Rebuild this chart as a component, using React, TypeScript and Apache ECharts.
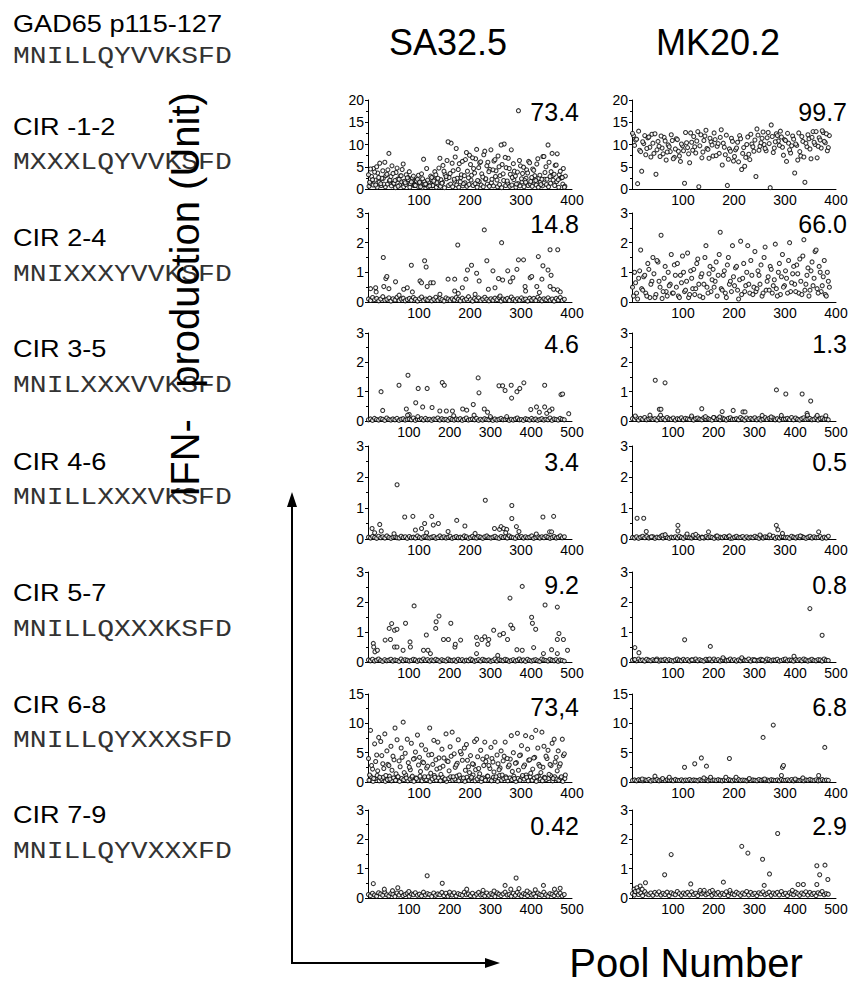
import React, { useEffect, useRef } from "react";
import * as echarts from "echarts";

// ---------- text content ----------
const PEPTIDE_NAMES = ["GAD65 p115-127", "CIR -1-2", "CIR 2-4", "CIR 3-5", "CIR 4-6", "CIR 5-7", "CIR 6-8", "CIR 7-9"];
const PEPTIDE_SEQS = ["MNILLQYVVKSFD", "MXXXLQYVVKSFD", "MNIXXXYVVKSFD", "MNILXXXVVKSFD", "MNILLXXXVKSFD", "MNILLQXXXKSFD", "MNILLQYXXXSFD", "MNILLQYVXXXFD"];
const CLONES = ["SA32.5", "MK20.2"];
const SA_VALUES = ["73.4", "14.8", "4.6", "3.4", "9.2", "73,4", "0.42"];
const MK_VALUES = ["99.7", "66.0", "1.3", "0.5", "0.8", "6.8", "2.9"];
const X_MAX = [400, 400, 500, 400, 500, 400, 500];
const Y_MAX = [20, 3, 3, 3, 3, 15, 3];
const Y_STEP = [5, 1, 1, 1, 1, 5, 1];

// ---------- data (IFN units per pool) ----------
// dense panels: one value per sampled pool (pool = first + i*4)
const SA1_A = [3.2,4.5,2.1,3.8,5.0,2.6,1.2,4.1,6.0,3.3, 8.0,2.8,3.5,1.9,4.7,2.2,3.0,5.6,1.4,2.5, 3.9,1.6,2.9,0.8,2.2,1.5,3.4,6.7,1.1,2.0, 0.7,2.6,1.8,3.2,2.4,6.9,1.3,4.0,2.8,10.6, 3.5,5.8,2.2,9.1,4.4,1.6,6.2,3.0,8.2,2.5, 5.5,7.0,3.6,8.9,4.8,6.1,2.7,8.5,5.2,3.9, 8.8,4.3,6.6,2.0,5.0,9.9,3.4,7.1,1.8,4.6, 8.8,5.7,2.9,3.8,6.4,2.3,4.9,1.5,3.6,5.9, 2.6,4.2,1.9,6.8,3.1,2.2,7.3,5.0,9.9,2.8, 8.0,3.3,5.4,2.1,4.0,2.6,0.4];
const SA1_B = [1.5,2.8,4.6,0.9,3.6,5.8,2.4,1.1,3.0,4.3, 2.0,5.2,1.3,3.7,0.6,2.9,4.4,1.7,3.2,2.1, 1.2,2.5,0.9,1.8,3.1,0.5,2.3,1.0,4.6,1.6, 2.9,0.8,3.9,1.4,4.7,2.1,5.3,3.3,6.4,2.6, 10.3,4.1,7.2,2.4,5.7,3.2,1.2,6.6,4.0,7.6, 3.1,4.6,6.8,1.9,5.9,3.4,7.7,2.3,6.0,4.4, 2.2,6.3,4.1,7.4,3.0,5.5,10.1,4.8,6.9,3.3, 2.6,4.0,1.1,17.6,5.2,3.5,2.0,4.3,6.2,1.7, 4.5,3.0,5.6,2.4,1.0,7.3,3.7,2.2,6.0,3.9, 2.0,5.3,7.9,3.2,2.5,4.6,2.9];
const SA1_C = [0.6,1.2,0.9,2.0,0.4,1.5,0.8,2.4,0.5,1.1, 1.8,0.7,1.3,0.3,2.2,0.9,1.6,0.5,1.0,2.6, 0.4,1.4,0.8,1.9,0.6,1.2,0.3,1.7,0.9,0.5, 1.3,0.7,2.1,0.4,1.0,0.6,1.5,0.3,2.3,0.8, 1.1,0.5,1.8,0.9,0.4,2.6,0.7,1.4,0.6,1.0, 2.0,0.8,1.2,0.4,1.7,0.9,0.5,2.2,1.1,0.6, 1.4,0.7,2.8,0.5,1.0,0.3,1.9,0.8,1.3,0.6, 0.9,2.1,0.4,1.2,0.7,1.6,0.5,2.4,0.8,1.1, 0.6,1.8,0.9,0.4,1.5,0.7,2.2,1.0,0.5,1.3, 3.0,0.8,1.7,0.4,2.5,1.1,0.6];

const MK1_A = [12.5,9.8,11.2,13.0,8.4,10.6,12.0,9.1,11.7,7.2, 10.3,12.4,8.8,9.6,11.9,7.9,10.8,8.3,9.5,12.2, 6.8,9.0,11.1,7.4,10.1,8.6,12.7,9.3,5.9,10.5, 11.8,8.1,12.9,9.7,7.0,10.9,13.2,8.9,11.4,9.9, 12.6,7.5,10.2,11.6,5.4,9.4,12.1,6.7,8.5,10.7, 7.3,9.2,6.1,11.3,8.0,5.1,10.0,7.8,12.3,9.5, 11.0,13.5,8.7,10.4,12.8,9.1,11.5,10.2,14.4,8.2, 10.6,12.0,9.8,11.7,7.6,10.9,12.5,8.8,9.7,11.2, 10.1,6.5,8.4,11.8,7.2,10.3,12.2,9.0,11.6,10.5, 12.9,9.6,11.0,13.1,10.7,12.4,9.3];
const MK1_B = [12.0,11.0,1.2,8.7,4.0,10.2,7.7,11.5,9.4,12.3, 8.0,3.3,10.7,7.3,9.2,11.6,6.5,9.9,8.4,10.9, 7.1,11.3,8.5,6.2,9.7,1.3,10.4,7.9,12.6,8.7, 9.5,10.8,0.5,12.2,8.3,11.9,9.1,6.9,10.6,7.4, 11.1,9.6,8.0,13.3,10.3,7.7,0.8,9.0,11.4,6.3, 8.8,10.5,12.0,4.4,9.3,7.1,11.7,6.6,10.1,8.5, 2.8,12.1,9.6,11.4,10.0,8.6,12.7,0.3,11.8,9.2, 12.4,10.8,13.0,9.4,11.1,6.2,10.3,8.1,11.9,3.6, 9.8,12.6,7.4,10.7,1.5,9.5,11.3,6.8,12.9,10.0, 7.0,11.5,9.2,12.7,10.4,8.6,12.0];

const MK2_A = [0.5,1.0,0.3,0.8,1.75,0.4,0.9,0.2,1.1,0.6, 1.5,0.15,1.4,0.7,2.25,0.35,1.2,0.2,0.55,1.6, 0.3,0.9,1.3,0.15,0.65,1.0,0.4,1.65,0.25,0.8, 1.1,0.45,1.45,0.2,0.95,0.6,1.9,0.3,1.2,0.75, 0.5,1.35,0.9,2.35,0.4,1.05,0.15,1.5,0.7,1.9, 0.55,1.2,0.1,2.05,0.8,0.35,1.0,0.6,1.4,0.25, 1.7,0.45,0.9,1.25,0.3,1.85,0.7,0.4,1.1,0.55, 1.95,0.2,1.3,0.85,0.5,1.05,0.3,2.0,0.65,1.2, 0.35,0.95,1.45,0.25,2.1,0.6,1.15,0.4,1.35,0.8, 1.75,0.3,1.0,0.55,1.4,0.2,0.7];
const MK2_B = [0.2,0.65,0.1,1.05,0.45,0.85,0.3,1.3,0.15,0.7, 0.95,0.25,1.35,0.5,0.12,0.8,0.35,1.0,0.6,0.3, 1.25,0.5,0.2,0.9,1.55,0.35,0.7,0.15,1.05,0.45, 0.25,1.3,0.6,0.85,0.15,1.5,0.5,0.95,0.35,1.1, 0.7,0.2,1.6,0.45,0.9,0.3,1.25,0.6,0.35,0.85, 1.15,0.4,0.75,0.25,1.3,0.55,1.9,0.3,0.9,0.5, 0.35,1.05,0.6,0.2,1.5,0.4,0.85,1.2,0.3,0.75, 0.45,1.0,0.25,1.6,0.55,0.8,1.4,0.35,0.95,0.6, 1.25,0.3,0.7,1.55,0.4,0.9,0.2,1.05,0.55,1.7, 0.45,1.2,0.35,0.85,0.25,1.0,0.5];

const SA6_A = [4.0,8.8,2.2,6.5,4.6,7.6,6.9,3.1,8.2,5.3, 2.8,6.1,4.4,9.2,7.2,3.6,5.8,10.2,4.9,7.3, 2.5,6.6,3.9,5.1,8.0,4.2,6.3,3.3,5.5,2.7, 9.2,4.7,7.1,3.8,6.8,2.4,5.6,4.1,8.2,3.5, 6.0,8.5,4.8,2.9,7.2,5.2,3.7,5.8,6.4,2.6, 4.5,3.1,6.9,7.3,2.3,5.4,3.9,6.8,4.3,2.8, 5.9,3.4,6.8,4.6,2.1,5.3,3.6,6.8,4.0,2.9, 7.9,5.0,3.2,8.3,4.5,6.2,2.6,7.9,5.6,3.8, 7.6,4.1,8.8,5.8,2.7,8.5,6.1,4.4,5.4,3.0, 6.6,7.3,4.2,5.3,3.1,7.3,4.8];
const SA6_B = [1.2,2.8,0.6,3.5,1.9,0.8,4.5,2.3,1.1,3.0, 0.5,2.0,3.8,1.4,0.9,2.6,4.2,1.6,0.7,3.3, 2.1,1.0,4.0,0.6,2.9,1.8,3.4,0.9,2.4,4.6, 1.5,3.0,0.8,2.2,4.1,1.3,2.7,0.5,3.6,1.9, 4.4,0.9,2.5,3.2,1.2,4.8,0.7,2.0,3.7,1.6, 0.8,3.0,2.1,4.3,1.4,0.6,2.8,3.5,1.0,2.3, 4.0,1.7,0.9,3.1,2.4,1.2,4.4,0.7,2.6,3.9, 1.8,0.6,3.3,2.0,4.6,1.1,2.9,0.8,3.7,1.5, 2.2,4.2,0.9,3.0,1.6,2.5,0.7,4.0,1.3,2.8, 0.6,3.4,1.9,2.7,0.9,4.5,1.2];
const SA6_C = [0.3,0.9,0.1,0.6,1.1,0.2,0.5,0.8,0.1,0.4, 1.0,0.2,0.7,0.3,0.9,0.1,0.6,0.4,1.2,0.2, 0.5,0.8,0.1,0.7,0.3,1.0,0.2,0.6,0.4,0.9, 0.1,0.5,1.1,0.3,0.7,0.2,0.8,0.4,0.1,0.6, 0.9,0.3,0.5,1.0,0.2,0.7,0.4,0.1,0.8,0.3, 0.6,1.2,0.2,0.5,0.9,0.1,0.7,0.3,1.0,0.4, 0.2,0.8,0.5,0.1,1.1,0.3,0.6,0.9,0.2,0.7, 0.4,1.0,0.1,0.6,0.3,0.8,0.5,1.2,0.2,0.9, 0.3,0.7,0.1,1.0,0.5,0.2,0.8,0.4,0.6,1.1, 0.2,0.9,0.5,0.3,0.7,0.1,0.6];

// sparse panels: background pools (values in hundredths of a unit)
const SA2_BASE = [10,5,15,8,12,4,10,18,6,9, 14,3,11,7,16,5,10,13,4,8, 12,6,15,9,3,11,17,5,10,7, 13,4,9,16,6,12,8,3,14,10, 5,11,7,15,9,4,13,6,10,18, 8,3,12,7,14,5,10,16,9,4, 11,6,13,8,15,3,10,7,12,5, 17,9,4,11,6,14,8,10,3,13, 7,12,5,16,9,4,11,8,14,6, 10,3,12,7,15,5,9];
const SA3_BASE = [4,7,2,9,5,3,8,6,2,10, 5,3,7,4,9,2,6,8,3,5, 7,4,10,2,6,5,8,3,9,4, 6,2,7,5,10,3,8,4,6,2, 9,5,3,7,4,8,2,6,10,3, 5,7,4,9,2,6,3,8,5,4, 10,2,7,3,6,9,4,5,8,2, 6,3,7,10,4,5,2,8,6,3, 9,4,7,2,5,8,3,6,4,10, 2,7,5,3,9,6,4];
const MK3_BASE = [8,5,11,3,9,6,12,4,7,10, 5,8,3,11,6,9,4,12,7,5, 10,3,8,6,11,4,9,7,5,12, 3,8,10,6,4,11,7,9,5,3, 12,6,8,4,10,7,3,9,11,5, 6,8,4,12,7,3,10,5,9,6, 11,4,8,3,7,12,5,9,6,10, 4,8,3,11,6,7,9,5,12,4, 10,6,3,8,11,5,7,9,4,6, 12,3,8,10,5,7,4];
const SA4_BASE = [6,3,8,5,2,9,4,7,3,10, 5,2,6,8,4,3,9,5,7,2, 8,4,6,3,10,5,2,7,9,4, 3,6,8,2,5,10,4,7,3,6, 9,2,5,8,4,6,3,10,7,2, 5,9,4,3,8,6,2,7,10,5, 3,6,9,4,2,8,5,7,3,10, 6,4,2,9,5,8,3,7,4,6, 10,2,5,8,3,7,4,9,6,2, 5,8,3,6,10,4,7];
const MK4_BASE = [5,3,7,2,6,9,4,8,3,5, 7,2,6,4,9,3,8,5,2,6, 4,7,3,9,5,2,8,6,4,3, 7,5,9,2,6,3,8,4,7,5, 2,9,3,6,4,8,5,7,2,3, 6,9,4,5,8,2,7,3,6,4, 9,5,2,8,3,7,6,4,5,9, 2,6,3,8,7,4,5,2,9,6, 3,7,4,8,5,2,6,9,3,7, 4,5,8,2,6,3,9];
const SA5_BASE = [7,4,9,3,6,10,5,2,8,4, 6,9,3,7,5,2,10,4,8,6, 3,5,9,7,2,6,4,10,5,8, 3,7,4,9,6,2,8,5,3,10, 6,4,7,2,9,5,8,3,6,4, 10,7,2,5,8,3,9,6,4,7, 2,5,10,3,8,6,4,9,7,2, 5,8,3,6,10,4,7,2,9,5, 3,6,8,4,2,10,7,5,3,9, 6,4,8,2,7,5,3];
const MK5_BASE = [6,8,4,10,5,7,3,9,6,4, 8,5,10,3,7,6,9,4,8,5, 3,7,10,6,4,9,5,8,3,7, 6,10,4,8,5,3,9,7,6,4, 10,5,8,3,7,9,4,6,10,5, 8,3,7,4,9,6,5,10,3,8, 7,4,6,9,5,3,10,8,4,7, 6,9,3,5,8,10,4,7,6,3, 9,5,8,4,10,7,3,6,9,5, 4,8,7,3,10,6,5];
const MK6_BASE = [25,35,20,40,30,22,38,28,45,18, 32,26,42,20,35,30,24,40,28,36, 22,44,30,26,38,20,34,28,42,24, 36,30,20,40,26,32,45,22,38,28, 34,24,40,30,20,36,26,42,32,22, 38,28,44,24,34,30,20,40,26,36, 30,22,42,28,38,24,34,20,40,32, 26,36,22,44,30,28,38,24,42,20, 34,30,26,40,22,36,28,44,32,24, 38,20,30,42,26,34,28];
const SA7_BASE = [12,8,16,10,6,18,14,9,20,11, 7,15,13,5,17,10,19,8,12,16, 6,14,11,18,9,13,7,20,10,15, 12,5,17,9,14,11,19,8,16,6, 13,10,18,7,15,12,9,20,11,14, 8,16,6,13,19,10,12,7,17,9, 15,11,5,18,13,8,14,20,10,12, 6,16,9,19,11,7,15,13,8,18, 10,14,5,17,12,9,20,11,6,15, 13,8,18,10,16,7,12];
const MK7_BASE = [15,10,20,12,18,8,22,14,11,17, 9,19,13,21,10,16,12,20,8,18, 14,11,22,15,9,17,13,19,10,21, 12,16,8,20,14,18,11,15,22,9, 17,13,19,10,16,12,21,8,18,14, 11,20,15,9,17,13,22,10,19,12, 16,8,18,14,21,11,15,20,9,17, 13,19,10,22,12,16,8,18,14,11, 20,15,9,17,13,21,10,19,12,16, 8,18,14,22,11,15,13];

// responding pools: [pool number, units]
const SA2_HITS = [[5,0.45],[15,0.48],[16,0.34],[30,1.5],[31,0.52],[35,0.79],[37,0.86],[41,0.45],[54,0.68],[61,0.23],[70,0.43],[77,0.48],[85,1.24],[87,0.34],[102,0.71],[105,0.65],[111,1.39],[114,1.18],[116,0.52],[123,0.65],[128,0.65],[141,0.26],[157,0.77],[170,0.77],[170,0.37],[176,1.92],[177,0.29],[185,0.48],[192,0.77],[195,1.08],[203,1.24],[210,0.26],[213,0.97],[218,0.71],[228,2.43],[233,1.39],[236,0.43],[245,1.05],[249,0.48],[256,0.79],[259,0.2],[262,2.0],[264,0.74],[274,1.05],[279,0.68],[284,0.82],[292,1.1],[295,1.42],[305,1.42],[308,0.52],[309,0.37],[318,0.82],[321,0.86],[331,0.52],[334,1.53],[336,0.32],[341,0.77],[343,1.22],[353,1.08],[357,1.76],[357,0.52],[359,0.9],[364,0.43],[372,1.76],[372,0.41],[377,0.34]];
const SA3_HITS = [[32,1.0],[76,1.22],[98,1.56],[123,1.11],[145,1.11],[182,1.31],[187,1.22],[270,1.47],[272,0.96],[321,1.2],[330,1.2],[336,1.04],[351,1.22],[352,0.78],[365,1.0],[372,1.11],[382,1.3],[433,1.22],[473,0.9],[477,0.92],[36,0.36],[94,0.41],[117,0.62],[134,0.48],[157,0.46],[258,0.56],[232,0.41],[242,0.37],[285,0.41],[293,0.3],[399,0.39],[413,0.48],[433,0.48],[451,0.41],[438,0.26],[176,0.34],[192,0.34],[207,0.34],[101,0.22],[492,0.25],[97,0.2],[122,0.15],[210,0.18],[260,0.2],[300,0.15],[340,0.15],[420,0.3],[445,0.35]];
const MK3_HITS = [[57,1.39],[81,1.3],[67,0.4],[71,0.4],[70,0.2],[44,0.2],[354,1.06],[377,0.92],[417,0.92],[438,0.68],[171,0.42],[221,0.32],[248,0.36],[272,0.31],[277,0.31],[319,0.19],[341,0.14],[366,0.19],[429,0.26],[454,0.19],[475,0.18],[146,0.17],[8,0.17],[430,0.2],[180,0.15],[200,0.12],[215,0.14]];
const SA4_HITS = [[57,1.75],[8,0.34],[23,0.47],[26,0.26],[72,0.71],[88,0.73],[93,0.29],[105,0.34],[111,0.5],[125,0.73],[128,0.45],[138,0.5],[157,0.24],[174,0.6],[190,0.42],[230,1.25],[248,0.34],[258,0.31],[261,0.4],[266,0.34],[272,0.31],[282,1.08],[282,0.66],[291,0.4],[296,0.24],[343,0.71],[364,0.73],[356,0.23],[360,0.23],[13,0.2],[51,0.17],[115,0.2],[210,0.18],[270,0.2],[330,0.16]];
const MK4_HITS = [[10,0.67],[23,0.67],[28,0.24],[90,0.44],[90,0.26],[108,0.16],[150,0.23],[167,0.1],[191,0.1],[251,0.13],[270,0.13],[283,0.44],[286,0.3],[295,0.18],[330,0.1],[366,0.23],[38,0.07],[138,0.05],[60,0.12],[65,0.14],[120,0.12],[125,0.15]];
const SA5_HITS = [[13,0.62],[14,0.5],[17,0.34],[23,0.39],[42,0.73],[52,1.12],[55,0.75],[58,1.28],[65,1.06],[65,0.5],[71,1.09],[71,0.5],[86,0.39],[92,1.29],[103,0.67],[104,0.5],[113,1.87],[136,0.39],[143,0.9],[147,0.39],[153,0.28],[166,1.12],[167,1.34],[174,1.53],[185,0.75],[197,0.75],[203,1.29],[213,0.5],[214,0.59],[227,0.73],[266,0.82],[266,0.28],[268,0.59],[279,0.75],[286,0.84],[294,0.59],[296,0.75],[308,1.06],[318,0.22],[323,0.9],[332,0.95],[342,0.75],[348,2.13],[350,1.23],[355,1.12],[365,0.41],[378,2.52],[378,0.39],[401,1.49],[403,1.29],[406,0.48],[411,1.09],[430,0.28],[434,1.9],[450,0.41],[464,1.83],[464,0.75],[464,0.28],[468,0.95],[479,0.75],[489,0.39]];
const MK5_HITS = [[7,0.48],[17,0.31],[129,0.74],[192,0.52],[223,0.14],[269,0.14],[397,0.19],[436,1.78],[466,0.89],[147,0.07],[7,0.08],[60,0.06],[190,0.1],[300,0.06],[320,0.07]];
const MK6_HITS = [[103,2.5],[123,3.1],[136,4.1],[146,2.7],[191,4.0],[257,7.6],[277,9.7],[295,2.5],[297,2.8],[293,1.1],[378,5.9],[366,1.1],[45,1.0],[73,0.8],[154,0.8],[184,0.8],[204,0.8],[335,0.7],[141,0.7],[20,0.5],[60,0.6],[230,0.6],[260,0.5],[320,0.5]];
const SA7_HITS = [[13,0.49],[40,0.3],[73,0.35],[145,0.76],[182,0.5],[242,0.3],[282,0.26],[336,0.43],[363,0.68],[370,0.32],[430,0.43],[457,0.3],[471,0.33],[390,0.24],[309,0.24],[100,0.22],[60,0.25],[200,0.2],[410,0.28],[350,0.3]];
const MK7_HITS = [[20,0.41],[33,0.52],[80,0.79],[96,1.48],[144,0.48],[224,0.54],[269,1.76],[284,1.53],[320,1.32],[337,0.82],[357,2.2],[407,0.46],[420,0.46],[453,0.46],[453,1.1],[473,1.12],[480,0.63],[460,0.79],[324,0.43],[167,0.26],[177,0.26],[197,0.26],[240,0.26],[393,0.26],[5,0.3],[8,0.22],[12,0.35],[15,0.25],[25,0.3]];

// map sampled values onto pool numbers
const pools = (vals: number[], first: number, step: number, scale = 1) =>
  vals.map((v, i) => [first + i * step, v * scale]);

const SA_DATA = [
  [...pools(SA1_C, 2, 4), ...pools(SA1_B, 3, 4), ...pools(SA1_A, 1, 4)],
  [...pools(SA2_BASE, 1, 4, 0.01), ...SA2_HITS],
  [...pools(SA3_BASE, 1, 5, 0.01), ...SA3_HITS],
  [...pools(SA4_BASE, 1, 4, 0.01), ...SA4_HITS],
  [...pools(SA5_BASE, 1, 5, 0.01), ...SA5_HITS],
  [...pools(SA6_C, 2, 4), ...pools(SA6_B, 3, 4), ...pools(SA6_A, 1, 4)],
  [...pools(SA7_BASE, 1, 5, 0.01), ...SA7_HITS],
];
const MK_DATA = [
  [...pools(MK1_B, 3, 4), ...pools(MK1_A, 1, 4)],
  [...pools(MK2_B, 3, 4), ...pools(MK2_A, 1, 4)],
  [...pools(MK3_BASE, 1, 5, 0.01), ...MK3_HITS],
  [...pools(MK4_BASE, 1, 4, 0.01), ...MK4_HITS],
  [...pools(MK5_BASE, 1, 5, 0.01), ...MK5_HITS],
  [...pools(MK6_BASE, 1, 4, 0.01), ...MK6_HITS],
  [...pools(MK7_BASE, 1, 5, 0.01), ...MK7_HITS],
];

// ---------- layout ----------
const ROW_TOP = [100, 213, 333, 446, 572, 694, 810];
const ROW_BOTTOM = [189, 302, 421, 539, 662, 782, 898];
const COL_LEFT = [368, 632];
const PLOT_W = 204;
const VALUE_RIGHT = [579, 847];
const VALUE_Y = [112, 224, 344, 462, 585, 707, 826];
const NAME_Y = [24, 127, 238, 349, 462, 593, 705, 815];
const SEQ_Y = [57, 163, 275, 386, 498, 630, 741, 852];

const SANS = "'Liberation Sans', Arial, Helvetica, sans-serif";
const MONO = "'Liberation Mono', 'Courier New', monospace";

function text(t: string, x: number, y: number, size: number, o: any = {}) {
  const align = o.align || "left";
  const valign = o.valign || "middle";
  return {
    type: "text",
    x,
    y,
    rotation: o.rotation || 0,
    scaleX: o.scaleX || 1,
    silent: true,
    z: 10,
    style: {
      text: t,
      fontSize: size,
      fontFamily: o.font || SANS,
      fill: o.fill || "#000",
      align,
      verticalAlign: valign,
      textAlign: align,
      textVerticalAlign: valign,
    },
  };
}

export default function App() {
  const ref = useRef<HTMLDivElement>(null);
  useEffect(() => {
    document.body.style.margin = "0";
    const chart = echarts.init(ref.current!, null, { renderer: "svg" });
    const grids: any[] = [];
    const xAxes: any[] = [];
    const yAxes: any[] = [];
    const series: any[] = [];
    const graphics: any[] = [];
    let idx = 0;
    for (let col = 0; col < 2; col++) {
      const data = col === 0 ? SA_DATA : MK_DATA;
      const values = col === 0 ? SA_VALUES : MK_VALUES;
      for (let row = 0; row < 7; row++) {
        grids.push({
          left: COL_LEFT[col],
          top: ROW_TOP[row],
          width: PLOT_W,
          height: ROW_BOTTOM[row] - ROW_TOP[row],
        });
        xAxes.push({
          type: "value",
          gridIndex: idx,
          min: 0,
          max: X_MAX[row],
          interval: 100,
          splitLine: { show: false },
          axisTick: { show: false },
          axisLine: { lineStyle: { color: "#000", width: 1 } },
          axisLabel: { showMinLabel: false, color: "#000", fontSize: 14, fontFamily: SANS, margin: 4 },
        });
        yAxes.push({
          type: "value",
          gridIndex: idx,
          min: 0,
          max: Y_MAX[row],
          interval: Y_STEP[row],
          splitLine: { show: false },
          axisLine: { show: true, lineStyle: { color: "#000", width: 1 } },
          axisTick: { show: true, length: 3, lineStyle: { color: "#000" } },
          minorTick: { show: true, splitNumber: 2, length: 2, lineStyle: { color: "#000" } },
          axisLabel: { color: "#000", fontSize: 14, fontFamily: SANS, margin: 4 },
        });
        series.push({
          type: "scatter",
          xAxisIndex: idx,
          yAxisIndex: idx,
          data: data[row],
          symbol: "circle",
          symbolSize: 4,
          silent: true,
          itemStyle: { color: "#fff", borderColor: "#000", borderWidth: 1.1 },
        });
        graphics.push(text(values[row], VALUE_RIGHT[col], VALUE_Y[row], 25, { align: "right" }));
        idx++;
      }
    }
    // column headers
    graphics.push(text(CLONES[0], 448, 42, 36, { align: "center" }));
    graphics.push(text(CLONES[1], 718, 42, 36, { align: "center" }));
    // peptide names / sequences
    PEPTIDE_NAMES.forEach((n, i) => graphics.push(text(n, 13, NAME_Y[i], 24, { scaleX: 1.13 })));
    PEPTIDE_SEQS.forEach((s, i) => graphics.push(text(s, 13, SEQ_Y[i], 23, { font: MONO, scaleX: 1.22, fill: "#333" })));
    // y title (rotated)
    graphics.push(text("production (Unit)", 185, 240, 40, { align: "center", rotation: Math.PI / 2 }));
    graphics.push(text("IFN-", 185, 458, 40, { align: "center", rotation: Math.PI / 2 }));
    // x title
    graphics.push(text("Pool Number", 686, 963, 40, { align: "center" }));
    // arrows
    const AX = 292, AY = 963, ATOP = 492, ARIGHT = 500;
    graphics.push({ type: "line", silent: true, shape: { x1: AX, y1: AY, x2: AX, y2: ATOP + 12 }, style: { stroke: "#000", lineWidth: 2 } });
    graphics.push({ type: "line", silent: true, shape: { x1: AX - 1, y1: AY, x2: ARIGHT - 12, y2: AY }, style: { stroke: "#000", lineWidth: 2 } });
    graphics.push({ type: "polygon", silent: true, shape: { points: [[AX, ATOP], [AX - 5, ATOP + 15], [AX + 5, ATOP + 15]] }, style: { fill: "#000" } });
    graphics.push({ type: "polygon", silent: true, shape: { points: [[ARIGHT, AY], [ARIGHT - 15, AY - 5], [ARIGHT - 15, AY + 5]] }, style: { fill: "#000" } });

    chart.setOption({
      animation: false,
      backgroundColor: "#fff",
      grid: grids,
      xAxis: xAxes,
      yAxis: yAxes,
      series,
      graphic: { elements: graphics },
    });
    return () => chart.dispose();
  }, []);
  return <div ref={ref} style={{ position: "absolute", left: 0, top: 0, width: 858, height: 987 }} />;
}
